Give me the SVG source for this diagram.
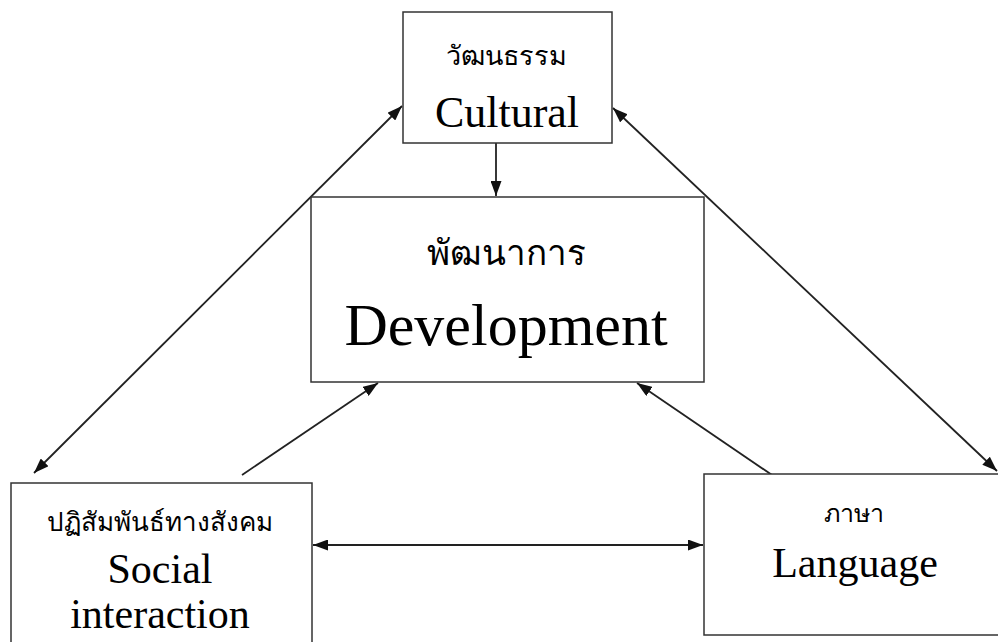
<svg xmlns="http://www.w3.org/2000/svg" width="998" height="642" viewBox="0 0 998 642">
<style>
.box{fill:#fff;stroke:#333;stroke-width:1.5}
.en{font-family:"Liberation Serif","Times New Roman",serif;fill:#000;text-anchor:middle}
.th{font-family:"Liberation Serif","Noto Sans",serif;fill:#000;text-anchor:middle}
.con line{stroke:#222;stroke-width:1.8}
</style>
<defs>
<marker id="ah" viewBox="0 0 15 11" refX="15" refY="5.5" markerWidth="15" markerHeight="11" markerUnits="userSpaceOnUse" orient="auto-start-reverse">
<path d="M0,0 L15,5.5 L0,11 z" fill="#111"/>
</marker>
</defs>
<rect width="998" height="642" fill="#fff"/>
<g class="con">
<line x1="496" y1="143" x2="496" y2="196" marker-end="url(#ah)"/>
<line x1="402" y1="106" x2="34" y2="473" marker-start="url(#ah)" marker-end="url(#ah)"/>
<line x1="613" y1="108" x2="997" y2="471" marker-start="url(#ah)" marker-end="url(#ah)"/>
<line x1="242" y1="475" x2="378" y2="383" marker-end="url(#ah)"/>
<line x1="772" y1="475" x2="637" y2="383" marker-end="url(#ah)"/>
<line x1="313" y1="545" x2="703" y2="545" marker-start="url(#ah)" marker-end="url(#ah)"/>
</g>
<g id="cultural">
<rect class="box" x="403" y="12" width="209" height="131"/>
<text class="th" x="506" y="65" font-size="27">วัฒนธรรม</text>
<text class="en" x="507" y="127" font-size="44">Cultural</text>
</g>
<g id="development">
<rect class="box" x="311" y="197" width="393" height="185"/>
<text class="th" x="506" y="265" font-size="35">พัฒนาการ</text>
<text class="en" x="506" y="345" font-size="60">Development</text>
</g>
<g id="social">
<rect class="box" x="11" y="483" width="301" height="170"/>
<text class="th" x="160" y="531" font-size="26">ปฏิสัมพันธ์ทางสังคม</text>
<text class="en" x="160" y="583" font-size="42">Social</text>
<text class="en" x="160" y="628" font-size="42">interaction</text>
</g>
<g id="language">
<rect class="box" x="704" y="474" width="310" height="161"/>
<text class="th" x="854" y="522" font-size="25">ภาษา</text>
<text class="en" x="855" y="577" font-size="42">Language</text>
</g>
</svg>
